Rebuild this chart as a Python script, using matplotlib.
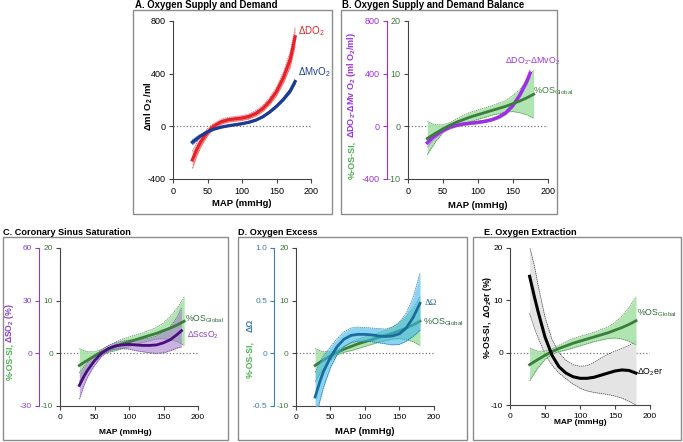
import matplotlib.pyplot as plt
from matplotlib.patches import Rectangle

plt.rcParams['font.family'] = ['Liberation Sans', 'DejaVu Sans']
plt.rcParams['mathtext.fontset'] = 'custom'
plt.rcParams['mathtext.rm'] = 'Liberation Sans'
plt.rcParams['mathtext.bf'] = 'Liberation Sans:bold'
plt.rcParams['mathtext.it'] = 'Liberation Sans:italic'
plt.rcParams['axes.unicode_minus'] = False

# ---- data ----
# A. oxygen supply (DO2) and demand (MvO2), ml O2/ml
a_map = [28, 35, 40, 45, 50, 55, 60, 70, 80, 90, 100, 110, 120, 130, 140, 150, 160, 170, 177]
do2 = [-255, -170, -120, -80, -45, -18, 5, 35, 50, 57, 63, 75, 98, 135, 190, 265, 370, 510, 680]
do2_lo = [-320, -218, -160, -113, -73, -41, -16, 16, 32, 39, 45, 56, 77, 112, 163, 232, 328, 452, 610]
do2_hi = [-190, -122, -80, -47, -17, 5, 26, 54, 68, 75, 81, 94, 119, 158, 217, 298, 412, 568, 750]
mvo2 = [-120, -92, -73, -57, -42, -30, -20, -6, 4, 12, 20, 31, 47, 72, 108, 152, 205, 270, 340]
mvo2_lo = [-140, -107, -85, -67, -51, -38, -27, -12, -2, 6, 14, 25, 41, 65, 100, 142, 192, 253, 320]
mvo2_hi = [-100, -77, -61, -47, -33, -22, -13, 0, 10, 18, 26, 37, 53, 79, 116, 162, 218, 287, 360]

# %OS global (shared by B-E)
os_map = [28, 35, 40, 50, 60, 70, 80, 90, 100, 110, 120, 130, 140, 150, 160, 170, 180]
os_y = [-2.3, -1.7, -1.3, -0.5, 0.2, 0.8, 1.3, 1.8, 2.2, 2.6, 3.0, 3.4, 3.8, 4.3, 4.8, 5.4, 6.1]
os_lo = [-5.4, -3.9, -2.9, -1.3, -0.3, 0.2, 0.5, 0.9, 1.3, 1.7, 2.1, 2.4, 2.7, 2.8, 2.6, 2.2, 1.5]
os_hi = [0.9, 0.5, 0.3, 0.3, 0.7, 1.4, 2.1, 2.7, 3.1, 3.5, 3.9, 4.4, 4.9, 5.8, 7.0, 8.6, 10.7]

# B. DO2 - MvO2 (in %OS units, purple axis x40)
b_map = [28, 35, 40, 50, 60, 70, 80, 90, 100, 110, 120, 130, 140, 150, 160, 170, 175]
bal = [-3.1, -2.2, -1.7, -0.8, -0.2, 0.2, 0.45, 0.6, 0.75, 0.95, 1.25, 1.75, 2.55, 3.9, 5.9, 8.5, 10.1]
bal_lo = [-3.9, -2.8, -2.2, -1.15, -0.5, -0.05, 0.2, 0.35, 0.5, 0.7, 1.0, 1.45, 2.2, 3.5, 5.4, 7.8, 9.3]
bal_hi = [-2.3, -1.6, -1.2, -0.45, 0.1, 0.45, 0.7, 0.85, 1.0, 1.2, 1.5, 2.05, 2.9, 4.3, 6.4, 9.2, 10.9]

# C. coronary sinus saturation (in %OS units, purple axis x3)
c_map = [28, 35, 40, 50, 60, 70, 80, 90, 100, 110, 120, 130, 140, 150, 160, 170, 176]
scso2 = [-6.1, -4.3, -3.2, -1.4, 0.0, 0.9, 1.4, 1.6, 1.7, 1.6, 1.5, 1.5, 1.6, 2.0, 2.6, 3.6, 4.3]
scso2_lo = [-8.7, -6.0, -4.5, -2.3, -0.6, 0.4, 0.8, 0.9, 0.8, 0.5, 0.3, 0.1, 0.0, 0.1, 0.5, 1.0, 1.2]
scso2_hi = [-3.7, -2.5, -1.8, -0.4, 0.7, 1.5, 2.0, 2.3, 2.5, 2.6, 2.7, 2.9, 3.3, 4.1, 5.1, 6.9, 8.6]

# D. oxygen excess (in %OS units, blue axis x0.05)
d_map = [28, 35, 40, 50, 60, 70, 80, 90, 100, 110, 120, 130, 140, 150, 160, 170, 180]
omega = [-8.3, -5.3, -3.5, -0.8, 1.3, 2.7, 3.4, 3.6, 3.6, 3.5, 3.3, 3.2, 3.3, 3.7, 4.8, 6.8, 9.5]
omega_lo = [-13.0, -9.0, -6.5, -2.8, -0.2, 1.3, 2.0, 2.3, 2.3, 2.2, 2.0, 1.8, 1.6, 1.7, 2.3, 3.2, 4.4]
omega_hi = [-3.6, -1.6, -0.5, 1.2, 2.8, 4.1, 4.8, 5.0, 4.9, 4.8, 4.7, 4.6, 5.0, 5.9, 7.6, 10.6, 15.2]

# E. oxygen extraction
e_map = [28, 35, 40, 50, 60, 70, 80, 90, 100, 110, 120, 130, 140, 150, 160, 170, 180]
o2er = [14.6, 10.6, 7.9, 3.0, -0.5, -2.7, -3.9, -4.6, -4.9, -4.9, -4.7, -4.3, -3.9, -3.5, -3.3, -3.4, -3.9]
o2er_lo = [7.5, 4.6, 2.9, -0.3, -2.4, -3.9, -5.0, -6.0, -6.8, -7.3, -7.6, -7.8, -8.0, -8.3, -8.7, -9.3, -10.0]
o2er_hi = [20.3, 16.5, 13.0, 6.8, 2.5, 0.0, -1.5, -2.3, -2.6, -2.5, -1.9, -1.0, -0.3, 0.3, 0.8, 1.4, 2.2]

map_ticks = [0, 50, 100, 150, 200]
os_ticks = [-10, 0, 10, 20]

GREEN = '#3b7d3b'
GREEN_BAND = '#a3e0a3'
OS_LABEL = '%OS$_{\\mathrm{Global}}$'

W, H = 683, 442
fig = plt.figure(figsize=(W / 100, H / 100), dpi=100)


def fx(x):
    return x / W


def fy(y):
    return 1 - y / H


def box(x0, y0, x1, y1):
    fig.patches.append(Rectangle((fx(x0), fy(y1)), (x1 - x0) / W, (y1 - y0) / H,
                                 transform=fig.transFigure, fill=False,
                                 edgecolor='#8c8c8c', lw=1.0))


def make_axes(x0, x1, ytop, ybot, fs):
    ax = fig.add_axes([fx(x0), fy(ybot), (x1 - x0) / W, (ybot - ytop) / H])
    for s in ['top', 'right']:
        ax.spines[s].set_visible(False)
    for s in ['left', 'bottom']:
        ax.spines[s].set_linewidth(0.8)
        ax.spines[s].set_color('#444444')
    ax.tick_params(length=3, width=0.8, color='#444444', labelsize=fs, pad=2)
    ax.tick_params(axis='x', pad=3)
    ax.set_xlim(0, 200)
    ax.set_xticks(map_ticks)
    ax.axhline(0, color='#777777', ls=':', lw=0.9, zorder=1)
    ax.patch.set_alpha(0)
    return ax


def band(ax, x, lo, hi, fc, ec, alpha=1.0, z=2):
    ax.fill_between(x, lo, hi, color=fc, alpha=alpha, lw=0, zorder=z)
    ax.plot(x, lo, color=ec, lw=0.5, ls=(0, (2, 1)), zorder=z)
    ax.plot(x, hi, color=ec, lw=0.5, ls=(0, (2, 1)), zorder=z)


def title(x, y, s, fs=6.9):
    fig.text(fx(x), fy(y), s, ha='left', va='baseline', fontsize=fs, fontweight='bold')


def ylab(x, y, s, color, fs=6.5):
    fig.text(fx(x), fy(y), s, rotation=90, ha='center', va='center',
             fontsize=fs, fontweight='bold', color=color)


def xlab(x, y, fs):
    fig.text(fx(x), fy(y), 'MAP (mmHg)', ha='center', va='center',
             fontsize=fs, fontweight='bold')


def second_axis(ax, loc, factor, ticks, labels, color, fs):
    sec = ax.secondary_yaxis(loc, functions=(lambda v: v * factor, lambda v: v / factor))
    sec.set_yticks(ticks, labels)
    sec.spines['left'].set_color(color)
    sec.spines['left'].set_linewidth(0.8)
    sec.tick_params(length=3, width=0.8, colors=color, labelsize=fs, pad=2)
    return sec


# ---------------- A ----------------
box(133, 10, 332, 214)
title(135, 8.3, 'A. Oxygen Supply and Demand')
axA = make_axes(173, 311, 21, 179, 6.5)
axA.set_ylim(-400, 800)
axA.set_yticks([-400, 0, 400, 800])
band(axA, a_map, do2_lo, do2_hi, '#f5a3a3', '#e05050')
band(axA, a_map, mvo2_lo, mvo2_hi, '#8fb0e0', '#3a5fa8')
axA.plot(a_map, do2, color='#e8202a', lw=2.3, zorder=4)
axA.plot(a_map, mvo2, color='#1c3d8f', lw=2.3, zorder=4)
axA.text(181, 720, 'ΔDO$_2$', color='#e8202a', fontsize=7, ha='left', va='center')
axA.text(181, 410, 'ΔMvO$_2$', color='#1c3d8f', fontsize=7, ha='left', va='center')
ylab(149, 106, 'Δml O$_\\mathbf{2}$ /ml', 'black', 6.8)
xlab(242, 204, 6.8)

# ---------------- B ----------------
box(341, 10, 557, 214)
title(342, 8.3, 'B. Oxygen Supply and Demand Balance')
PURPLE_B = '#9b30e0'
axB = make_axes(407.7, 547.7, 21, 179, 6.5)
axB.set_ylim(-10, 20)
axB.set_yticks(os_ticks)
axB.tick_params(axis='y', labelcolor=GREEN)
second_axis(axB, -0.148, 40, [-400, 0, 400, 800], ['-400', '0', '400', '800'], PURPLE_B, 6.5)
band(axB, os_map, os_lo, os_hi, GREEN_BAND, '#4a8a4a', alpha=0.85)
band(axB, b_map, bal_lo, bal_hi, '#c9a0f0', '#b070e8', alpha=0.9, z=3)
axB.plot(b_map, bal, color=PURPLE_B, lw=2.4, zorder=4)
axB.plot(os_map, os_y, color=GREEN, lw=2.0, zorder=5)
axB.text(139, 12.3, 'ΔDO$_2$-ΔMvO$_2$', color=PURPLE_B, fontsize=6.3, ha='left', va='center')
axB.text(179, 6.6, OS_LABEL, color=GREEN, fontsize=6.5, ha='left', va='center')
ylab(352, 160, '%-OS-SI,', '#4caf50', 6.5)
ylab(352, 85, 'ΔDO$_\\mathbf{2}$-ΔMv O$_\\mathbf{2}$ (ml O$_\\mathbf{2}$/ml)', PURPLE_B, 6.5)
xlab(478, 206, 6.8)

# ---------------- C ----------------
box(3, 237, 228, 440)
title(3, 235.3, 'C. Coronary Sinus Saturation', 6.6)
PURPLE_C = '#8b3fc8'
axC = make_axes(60, 198, 248, 406, 6.0)
axC.set_ylim(-10, 20)
axC.set_yticks(os_ticks)
axC.tick_params(axis='y', labelcolor=GREEN)
second_axis(axC, -0.152, 3, [-30, 0, 30, 60], ['-30', '0', '30', '60'], PURPLE_C, 6.0)
band(axC, os_map, os_lo, os_hi, GREEN_BAND, '#4a8a4a', alpha=0.85)
band(axC, c_map, scso2_lo, scso2_hi, '#a77fd0', '#6a4a90', alpha=0.6, z=3)
axC.plot(os_map, os_y, color=GREEN, lw=2.0, zorder=4)
axC.plot(c_map, scso2, color='#4b0c82', lw=2.0, zorder=5)
axC.text(181, 6.4, OS_LABEL, color='#2f6b3a', fontsize=6.2, ha='left', va='center')
axC.text(184, 3.4, 'ΔScsO$_2$', color=PURPLE_C, fontsize=6.2, ha='left', va='center')
ylab(10, 361, '%-OS-SI,', '#4caf50', 6.2)
ylab(10, 323, 'ΔSO$_\\mathbf{2}$ (%)', PURPLE_C, 6.2)
xlab(125, 433, 6.0)

# ---------------- D ----------------
box(238, 237, 467, 440)
title(238, 235.3, 'D. Oxygen Excess', 6.6)
BLUE_D = '#3f7fb0'
axD = make_axes(295.8, 433.8, 248, 406, 6.0)
axD.set_ylim(-10, 20)
axD.set_yticks(os_ticks)
axD.tick_params(axis='y', labelcolor=GREEN)
second_axis(axD, -0.158, 0.05, [-0.5, 0, 0.5, 1.0], ['-0.5', '0', '0.5', '1.0'], BLUE_D, 6.0)
band(axD, os_map, os_lo, os_hi, GREEN_BAND, '#4a8a4a', alpha=0.85)
axD.plot(os_map, os_y, color=GREEN, lw=2.0, zorder=3)
band(axD, d_map, omega_lo, omega_hi, '#3cb8ea', '#1f6fa0', alpha=0.6, z=3)
axD.plot(d_map, omega, color='#1b6c9e', lw=2.0, zorder=5)
axD.text(186, 9.6, 'ΔΩ', color='#1b6c9e', fontsize=6.3, ha='left', va='center',
         family=['Liberation Serif', 'DejaVu Serif'])
axD.text(184, 5.9, OS_LABEL, color='#2f6b3a', fontsize=6.5, ha='left', va='center')
ylab(250, 360, '%-OS-SI,', '#4caf50', 6.2)
ylab(250, 325, 'ΔΩ', BLUE_D, 6.2)
xlab(365, 432, 6.8)

# ---------------- E ----------------
box(473, 237, 681, 440)
title(484, 235.3, 'E. Oxygen Extraction', 6.6)
axE = make_axes(510, 650, 248, 405, 6.0)
axE.set_ylim(-10, 20)
axE.set_yticks(os_ticks)
band(axE, e_map, o2er_lo, o2er_hi, '#e4e4e4', '#444444', z=2)
band(axE, os_map, os_lo, os_hi, GREEN_BAND, '#4a8a4a', alpha=0.85, z=3)
axE.plot(os_map, os_y, color=GREEN, lw=2.0, zorder=4)
axE.plot(e_map, o2er, color='black', lw=2.2, zorder=5)
axE.text(182, 7.6, OS_LABEL, color='#2f6b3a', fontsize=6.3, ha='left', va='center')
axE.text(182, -3.8, 'ΔO$_2$er', color='black', fontsize=6.3, ha='left', va='center')
ylab(487, 317, '%-OS-SI,  ΔO$_\\mathbf{2}$er (%)', 'black', 6.2)
xlab(580, 423, 6.0)

fig.savefig('out.png', dpi=100)
